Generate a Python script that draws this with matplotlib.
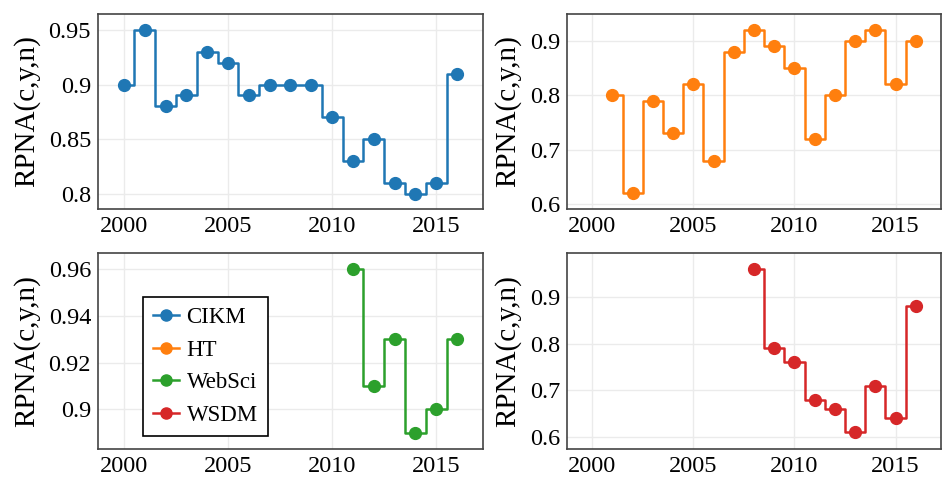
import matplotlib
matplotlib.use("Agg")
import matplotlib.pyplot as plt
from matplotlib.ticker import FuncFormatter

plt.rcParams['font.family'] = ['Liberation Serif', 'DejaVu Serif']

cikm_years = list(range(2000, 2017))
cikm_vals = [0.90, 0.95, 0.88, 0.89, 0.93, 0.92, 0.89, 0.90, 0.90, 0.90,
             0.87, 0.83, 0.85, 0.81, 0.80, 0.81, 0.91]
ht_years = list(range(2001, 2017))
ht_vals = [0.80, 0.62, 0.79, 0.73, 0.82, 0.68, 0.88, 0.92, 0.89, 0.85,
           0.72, 0.80, 0.90, 0.92, 0.82, 0.90]
websci_years = list(range(2011, 2017))
websci_vals = [0.96, 0.91, 0.93, 0.89, 0.90, 0.93]
wsdm_years = list(range(2008, 2017))
wsdm_vals = [0.96, 0.79, 0.76, 0.68, 0.66, 0.61, 0.71, 0.64, 0.88]

names = ['CIKM', 'HT', 'WebSci', 'WSDM']
colors = ['#1f77b4', '#ff7f0e', '#2ca02c', '#d62728']
series = [(cikm_years, cikm_vals), (ht_years, ht_vals),
          (websci_years, websci_vals), (wsdm_years, wsdm_vals)]
ylims = [(0.786, 0.9646), (0.591, 0.949), (0.883, 0.9669), (0.574, 0.994)]
yticks = [[0.8, 0.85, 0.9, 0.95], [0.6, 0.7, 0.8, 0.9],
          [0.9, 0.92, 0.94, 0.96], [0.6, 0.7, 0.8, 0.9]]

fig = plt.figure(figsize=(9.42, 4.82), dpi=100)
W, H = 942, 482
boxes = [(98, 14, 483, 209), (567, 14, 941, 209),
         (98, 253, 483, 449), (567, 253, 941, 449)]

fmt = FuncFormatter(lambda v, p: ('%.2f' % v).rstrip('0').rstrip('.'))
for i, (x0, y0, x1, y1) in enumerate(boxes):
    ax = fig.add_axes([x0 / W, 1 - y1 / H, (x1 - x0) / W, (y1 - y0) / H])
    yrs, vals = series[i]
    ax.step(yrs, vals, where='mid', color=colors[i], lw=1.8, zorder=3)
    ax.plot(yrs, vals, 'o', color=colors[i], ms=8.5, zorder=4)
    ax.set_xlim(1998.75, 2017.25)
    ax.set_ylim(*ylims[i])
    ax.set_xticks([2000, 2005, 2010, 2015])
    ax.set_yticks(yticks[i])
    ax.yaxis.set_major_formatter(fmt)
    ax.grid(True, color='#ebebeb', lw=1)
    ax.set_axisbelow(True)
    ax.tick_params(labelsize=17.5, length=0, pad=5, colors='black')
    for s in ax.spines.values():
        s.set_color('#444444')
        s.set_linewidth(1.2)
    ax.set_ylabel('RPNA(c,y,n)', fontsize=21, labelpad=6)

# legend in lower-left panel
legend_ax = fig.axes[2]
handles = [plt.Line2D([], [], color=c, lw=1.8, marker='o', ms=8) for c in colors]
leg = legend_ax.legend(handles, names, loc='lower left', bbox_to_anchor=(0.117, 0.066),
                       borderaxespad=0, fontsize=16.5, frameon=True, fancybox=False,
                       framealpha=1, edgecolor='black', handlelength=1.1,
                       handletextpad=0.35, borderpad=0.45, labelspacing=0.5)
leg.get_frame().set_linewidth(1.2)

fig.savefig('out.png', dpi=100)
